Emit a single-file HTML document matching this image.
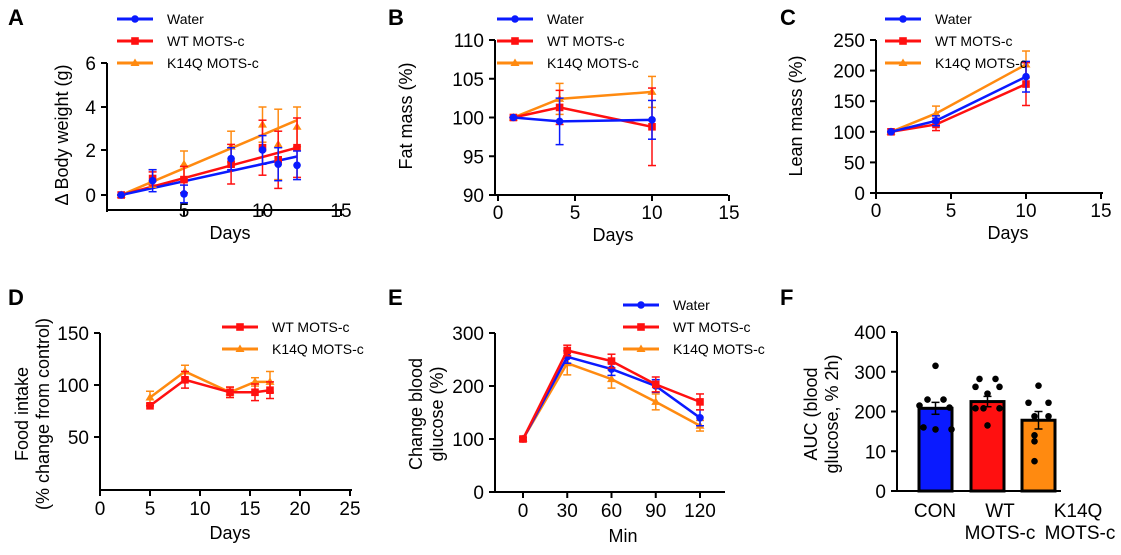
<!DOCTYPE html>
<html><head><meta charset="utf-8"><style>
html,body{margin:0;padding:0;background:#fff;}
svg{display:block;font-family:"Liberation Sans",Arial,sans-serif;}
</style></head><body>
<svg id="s" width="1121" height="555" viewBox="0 0 1121 555" xmlns="http://www.w3.org/2000/svg"></svg>
<script>
const s=document.getElementById('s');let h='';
const B='#0a1aff',R='#ff1010',O='#ff8a10';
const TS=19,AS=18;
function t(x,y,str,size,anchor,extra){h+=`<text x="${x}" y="${y}" font-size="${size}" text-anchor="${anchor||'middle'}" ${extra||''}>${str}</text>`;}
function L(x1,y1,x2,y2,c,w){h+=`<line x1="${x1}" y1="${y1}" x2="${x2}" y2="${y2}" stroke="${c||'#000'}" stroke-width="${w||2}"/>`;}
function mk(x,y,c,type){
 if(type==0)h+=`<circle cx="${x}" cy="${y}" r="3.8" fill="${c}"/>`;
 else if(type==1)h+=`<rect x="${x-3.8}" y="${y-3.8}" width="7.6" height="7.6" fill="${c}"/>`;
 else h+=`<polygon points="${x},${y-4.5} ${x+4.5},${y+3} ${x-4.5},${y+3}" fill="${c}"/>`;
}
function err(x,y,e,c){L(x,y-e,x,y+e,c,1.5);L(x-4,y-e,x+4,y-e,c,1.5);L(x-4,y+e,x+4,y+e,c,1.5);}
function legend(x,y,items){items.forEach((it,i)=>{let yy=y+i*22;L(x,yy,x+36,yy,it[1],3);mk(x+18,yy,it[1],it[2]);t(x+50,yy+5,it[0],14,'start');});}
function ylab(x,y,lines){h+=`<text transform="translate(${x},${y}) rotate(-90)" font-size="${AS}" text-anchor="middle">`;lines.forEach((l,i)=>{h+=`<tspan x="0" dy="${i?21:0}">${l}</tspan>`});h+='</text>';}
[['A',8,25],['B',388,25],['C',780,25],['D',8,305],['E',388,305],['F',780,305]].forEach(p=>t(p[1],p[2],p[0],22,'start','font-weight="bold"'));
const LG=[['Water',B,0],['WT MOTS-c',R,1],['K14Q MOTS-c',O,2]];
// ---- A
{let X=d=>105.5+d*15.7,Y=v=>195-v*22;
L(107,63,107,212);L(106,210,342,210);
[[6,63],[4,107],[2,150],[0,195]].forEach(a=>{L(101,a[1],107,a[1]);t(96,a[1]+7,a[0],TS,'end');});
[5,10,15].forEach(v=>{L(X(v),210,X(v),216);t(X(v),217,v,TS);});
t(230,239,'Days',AS);ylab(68,135,['Δ Body weight (g)']);
const ds=[1,3,5,8,10,11,12.2];
L(X(1),Y(0),X(12.2),Y(3.4),O,2.5);L(X(1),Y(0),X(12.2),Y(2.15),R,2.5);L(X(1),Y(0),X(12.2),Y(1.75),B,2.5);
const ko=[0,0.75,1.4,2.2,3.2,2.3,3.1],koe=[0,0.4,0.6,0.7,0.8,1.6,0.9];
const wt=[0,0.75,0.7,1.4,2.15,1.6,2.15],wte=[0,0.3,0.6,0.9,1.25,1.3,1.35];
const wa=[0,0.65,0.05,1.65,2.05,1.4,1.35],wae=[0,0.5,0.4,0.5,0.65,0.75,0.65];
ds.forEach((d,i)=>{err(X(d),Y(ko[i]),koe[i]*22,O);mk(X(d),Y(ko[i]),O,2);});
ds.forEach((d,i)=>{err(X(d),Y(wt[i]),wte[i]*22,R);mk(X(d),Y(wt[i]),R,1);});
ds.forEach((d,i)=>{err(X(d),Y(wa[i]),wae[i]*22,B);mk(X(d),Y(wa[i]),B,0);});
legend(117,19,LG);}
// ---- B
{let X=d=>498+d*15.4,Y=v=>117.5-(v-100)*7.75;
L(495,40,495,196);L(494,195,728,195);
[110,105,100,95,90].forEach(v=>{L(489,Y(v),495,Y(v));t(484,Y(v)+7,v,TS,'end');});
[0,5,10,15].forEach(v=>{L(X(v),195,X(v),201);t(X(v),219,v,TS);});
t(613,241,'Days',AS);ylab(412,116,['Fat mass (%)']);
const dd=[1,4,10];
[[O,2,[100,102.4,103.3],[0,2,2]],[R,1,[100,101.3,98.8],[0,2.2,5]],[B,0,[100,99.5,99.7],[0,3,2.5]]].forEach(sr=>{
 let p=dd.map((d,i)=>X(d)+','+Y(sr[2][i])).join(' ');h+=`<polyline points="${p}" fill="none" stroke="${sr[0]}" stroke-width="2.5"/>`;
 dd.forEach((d,i)=>{err(X(d),Y(sr[2][i]),sr[3][i]*7.75,sr[0]);mk(X(d),Y(sr[2][i]),sr[0],sr[1]);});});
legend(497,19,LG);}
// ---- C
{let X=d=>876+d*15,Y=v=>193-v*0.612;
L(876,40,876,194);L(875,193,1103,193);
[250,200,150,100,50,0].forEach(v=>{L(870,Y(v),876,Y(v));t(865,Y(v)+7,v,TS,'end');});
[0,5,10,15].forEach(v=>{L(X(v),193,X(v),199);t(X(v),217,v,TS);});
t(1008,239,'Days',AS);ylab(802,116,['Lean mass (%)']);
const dd=[1,4,10];
[[O,2,[100,130,210],[0,12,22]],[R,1,[100,112,178],[0,10,35]],[B,0,[100,118,190],[0,8,25]]].forEach(sr=>{
 let p=dd.map((d,i)=>X(d)+','+Y(sr[2][i])).join(' ');h+=`<polyline points="${p}" fill="none" stroke="${sr[0]}" stroke-width="2.5"/>`;
 dd.forEach((d,i)=>{err(X(d),Y(sr[2][i]),sr[3][i]*0.612,sr[0]);mk(X(d),Y(sr[2][i]),sr[0],sr[1]);});});
legend(885,19,LG);}
// ---- D
{let X=d=>100+d*10,Y=v=>489-v*1.04;
L(100,333,100,491);L(99,490,352,490);
[150,100,50].forEach(v=>{L(94,Y(v),100,Y(v));t(89,Y(v)+7,v,TS,'end');});
[0,5,10,15,20,25].forEach(v=>{L(X(v),490,X(v),496);t(X(v),515,v,TS);});
t(230,539,'Days',AS);ylab(28,414,['Food intake','(% change from control)']);
const dd=[5,8.5,13,15.5,17];
[[O,2,[88,113,93,103,103],[6,6,5,4,10]],[R,1,[80,105,93,93,95],[0,8,5,8,8]]].forEach(sr=>{
 let p=dd.map((d,i)=>X(d)+','+Y(sr[2][i])).join(' ');h+=`<polyline points="${p}" fill="none" stroke="${sr[0]}" stroke-width="2.5"/>`;
 dd.forEach((d,i)=>{err(X(d),Y(sr[2][i]),sr[3][i]*1.04,sr[0]);mk(X(d),Y(sr[2][i]),sr[0],sr[1]);});});
legend(222,327,[['WT MOTS-c',R,1],['K14Q MOTS-c',O,2]]);}
// ---- E
{let X=d=>523+d*1.475,Y=v=>492-v*0.53;
L(495,333,495,493);L(494,492,725,492);
[300,200,100,0].forEach(v=>{L(489,Y(v),495,Y(v));t(484,Y(v)+7,v,TS,'end');});
[0,30,60,90,120].forEach(v=>{L(X(v),492,X(v),498);t(X(v),517,v,TS);});
t(623,542,'Min',AS);ylab(422,414,['Change blood','glucose (%)']);
const dd=[0,30,60,90,120];
[[O,2,[100,243,213,170,125],[3,22,17,15,10]],[B,0,[100,255,232,200,140],[3,12,12,12,15]],[R,1,[100,267,247,203,170],[3,10,13,14,15]]].forEach(sr=>{
 let p=dd.map((d,i)=>X(d)+','+Y(sr[2][i])).join(' ');h+=`<polyline points="${p}" fill="none" stroke="${sr[0]}" stroke-width="2.5"/>`;
 dd.forEach((d,i)=>{err(X(d),Y(sr[2][i]),sr[3][i]*0.53,sr[0]);mk(X(d),Y(sr[2][i]),sr[0],sr[1]);});});
legend(623,305,LG);}
// ---- F
{let Y=v=>491-v*0.3975;
L(897,332,897,492);L(896,491,1061,491);
[[400,'400'],[300,'300'],[200,'200'],[100,'10'],[0,'0']].forEach(a=>{L(891,Y(a[0]),897,Y(a[0]));t(886,Y(a[0])+7,a[1],TS,'end');});
ylab(817,414,['AUC (blood','glucose, % 2h)']);
const bars=[[919,952,208,B,15,[[0,315],[-8,230],[8,230],[-16,215],[14,210],[-12,160],[0,155],[16,155]]],
 [971,1004,225,R,13,[[-8,282],[8,282],[-12,262],[12,262],[0,245],[-12,208],[12,208],[-4,208],[0,165]]],
 [1022,1055,178,O,22,[[0,265],[-10,222],[10,222],[-4,188],[10,188],[-4,140],[-4,125],[-4,75]]]];
bars.forEach(b=>{h+=`<rect x="${b[0]}" y="${Y(b[2])}" width="${b[1]-b[0]}" height="${491-Y(b[2])}" fill="${b[3]}" stroke="#000" stroke-width="3"/>`;
 let cx=(b[0]+b[1])/2;err(cx,Y(b[2]),b[4]*0.3975,'#000');
 b[5].forEach(p=>{h+=`<circle cx="${cx+p[0]}" cy="${Y(p[1])}" r="3.3" fill="#000"/>`;});});
t(935,517,'CON',TS);t(1000,517,'WT',TS);t(1000,539,'MOTS-c',TS);t(1078,517,'K14Q',TS);t(1080,539,'MOTS-c',TS);}
s.innerHTML=h;
</script>
</body></html>
